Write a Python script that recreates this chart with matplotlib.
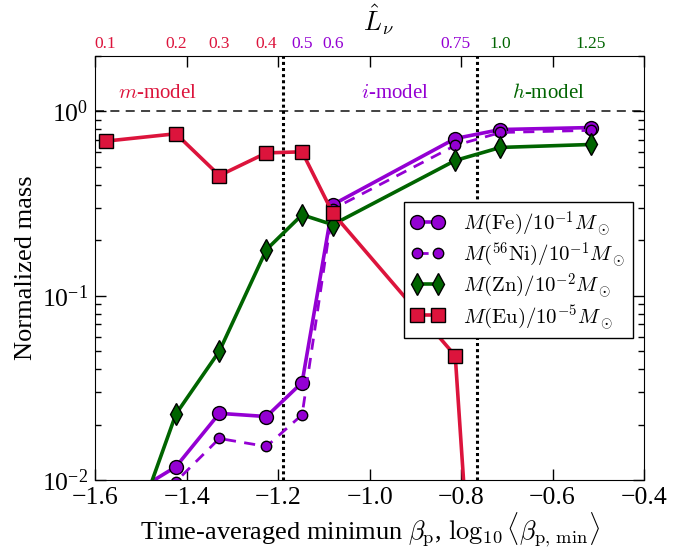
import matplotlib
import matplotlib.pyplot as plt
import matplotlib.transforms as mtransforms

matplotlib.use("Agg")

plt.rcParams["font.family"] = ["Liberation Serif", "DejaVu Serif"]
plt.rcParams["mathtext.fontset"] = "stix"

# log10 <beta_p,min> of each run, and the L_nu value written on top
log_beta = [-1.578, -1.424, -1.329, -1.226, -1.148, -1.081, -0.813, -0.714, -0.516]
lnu_labels = ["0.1", "0.2", "0.3", "0.4", "0.5", "0.6", "0.75", "1.0", "1.25"]
lnu_model = ["m", "m", "m", "m", "i", "i", "i", "h", "h"]

# normalized masses
mass_fe = [0.0069, 0.0118, 0.023, 0.0221, 0.0338, 0.312, 0.713, 0.798, 0.818]
mass_ni = [0.005, 0.0098, 0.0168, 0.0152, 0.0226, 0.295, 0.654, 0.769, 0.79]
mass_zn = [0.00195, 0.0228, 0.050, 0.178, 0.275, 0.243, 0.542, 0.638, 0.662]
mass_eu = [0.69, 0.757, 0.449, 0.596, 0.604, 0.281, 0.0472, 1e-5, 1e-5]

# boundaries between models
model_edges = [-1.19, -0.765]

RED = "#DC143C"
PURPLE = "#9400D3"
GREEN = "#006400"
model_colors = {"m": RED, "i": PURPLE, "h": GREEN}

fig = plt.figure(figsize=(6.81, 5.48), dpi=100)
ax = fig.add_axes([0.1402, 0.1241, 0.8055, 0.7737])

ax.axhline(1.0, color="0.2", linestyle=(0, (5, 3.5)), linewidth=1.3, zorder=1)
for edge in model_edges:
    ax.axvline(edge, color="black", linestyle=(0, (1, 1)), linewidth=2.2, zorder=1)

ax.plot(log_beta, mass_fe, "-o", color=PURPLE, lw=2.6, ms=10, mec="black", mew=1,
        label=r"$M(\mathrm{Fe})/10^{-1}M_\odot$")
ax.plot(log_beta, mass_ni, "--o", color=PURPLE, lw=2.0, ms=7.5, mec="black", mew=1,
        dashes=(4, 3), label=r"$M(^{56}\mathrm{Ni})/10^{-1}M_\odot$")
ax.plot(log_beta, mass_zn, "-d", color=GREEN, lw=2.6, ms=11, mec="black", mew=1,
        label=r"$M(\mathrm{Zn})/10^{-2}M_\odot$")
ax.plot(log_beta, mass_eu, "-s", color=RED, lw=2.6, ms=10, mec="black", mew=1,
        label=r"$M(\mathrm{Eu})/10^{-5}M_\odot$")

ax.set_yscale("log")
ax.set_xlim(-1.6, -0.4)
ax.set_ylim(0.01, 2.0)
ax.set_xticks([-1.6, -1.4, -1.2, -1.0, -0.8, -0.6, -0.4])

ax.tick_params(which="both", direction="in", top=True, right=True, labelsize=18.5)
ax.tick_params(which="major", length=8, width=1)
ax.tick_params(which="minor", length=4, width=1)
ax.tick_params(axis="x", pad=5)
ax.tick_params(axis="y", pad=5)

ax.set_xlabel(r"Time-averaged minimun $\beta_\mathrm{p}$, $\log_{10}\langle\beta_\mathrm{p,\,min}\rangle$",
              fontsize=19, math_fontfamily="cm", labelpad=1)
ax.set_ylabel("Normalized mass", fontsize=19, labelpad=4)

# L_nu labels along the top edge
top = mtransforms.blended_transform_factory(ax.transData, ax.transAxes)
for xv, lab, mdl in zip(log_beta, lnu_labels, lnu_model):
    ax.text(xv, 1.019, lab, transform=top, ha="center", va="baseline",
            fontsize=12.5, color=model_colors[mdl])
fig.text(378 / 681, 1 - 20 / 548, r"$\hat{L}_\nu$", ha="center",
         va="center", fontsize=19, math_fontfamily="cm")

# model names
ax.text(-1.464, 1.25, r"$m$-model", color=RED, fontsize=15, ha="center", va="center",
        math_fontfamily="cm")
ax.text(-0.944, 1.25, r"$i$-model", color=PURPLE, fontsize=15, ha="center", va="center",
        math_fontfamily="cm")
ax.text(-0.609, 1.25, r"$h$-model", color=GREEN, fontsize=15, ha="center", va="center",
        math_fontfamily="cm")

leg = ax.legend(loc="upper right", bbox_to_anchor=(0.979, 0.656), borderaxespad=0,
                numpoints=2, handlelength=1.6, handletextpad=0.9, labelspacing=0.12,
                borderpad=0.35, fancybox=False, framealpha=1, edgecolor="black",
                prop=dict(size=15, math_fontfamily="cm"))
leg.get_frame().set_linewidth(1)

fig.savefig("out.png", dpi=100, facecolor="white")
